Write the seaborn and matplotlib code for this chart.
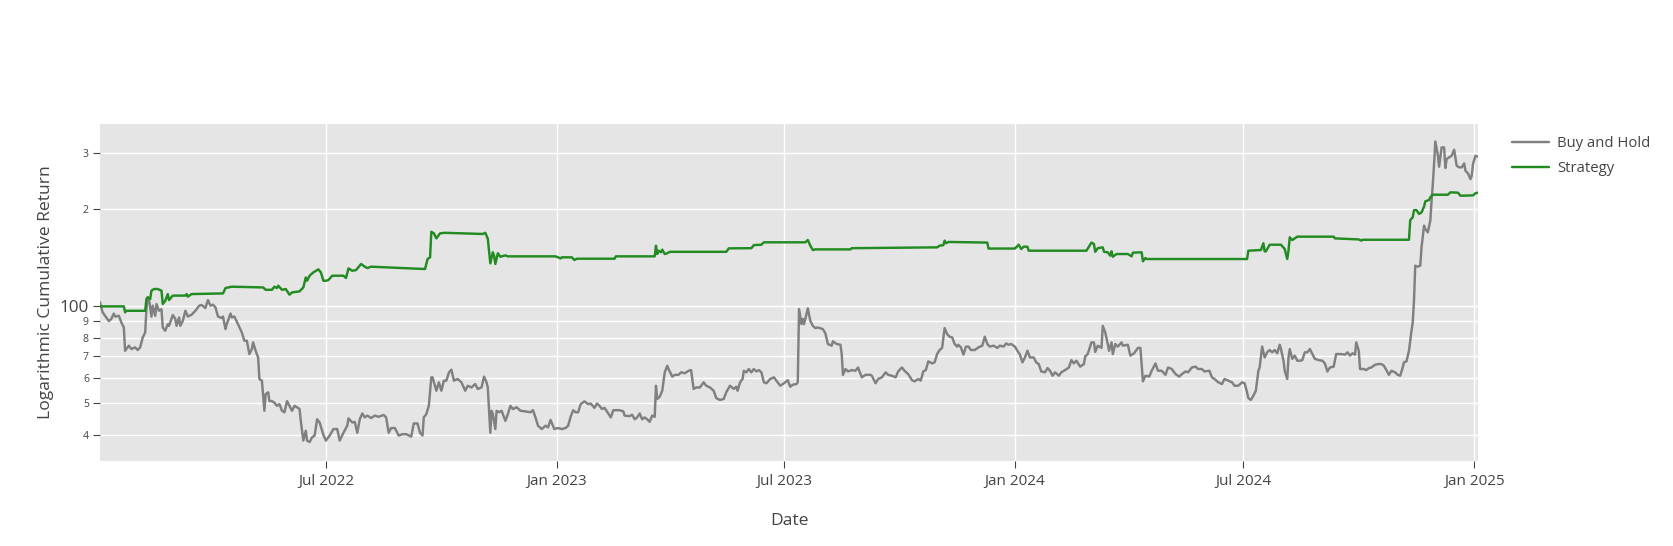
import numpy as np
import pandas as pd
import matplotlib
matplotlib.use("Agg")
import matplotlib.pyplot as plt
import matplotlib.dates as mdates
from matplotlib.ticker import FixedLocator, FixedFormatter, NullLocator
import seaborn as sns

# ---------------- data ----------------
START_DATE = "2022-01-01"          # day 0 of the day offsets below
SERIES_NAMES = ["Buy and Hold", "Strategy"]
SERIES_COLORS = ["#808080", "#228B22"]

BH_DAY = [1, 3, 6, 8, 10, 12, 13, 16, 18, 20, 21, 24, 26, 29, 31, 33, 35, 37, 38, 39, 40, 42, 43, 45, 46, 48, 50, 51, 53, 55,
          56, 59, 61, 62, 64, 65, 67, 69, 71, 74, 77, 80, 82, 85, 87, 89, 91, 93, 95, 98, 99, 101, 102, 105, 106, 108, 111, 114,
          116, 118, 120, 122, 123, 125, 127, 128, 130, 132, 133, 135, 136, 138, 140, 142, 144, 146, 148, 150, 152, 154, 156, 158,
          160, 161, 163, 165, 166, 168, 170, 172, 174, 176, 179, 181,
          184, 187, 190, 192, 195, 198, 199, 202, 204, 206, 208, 210, 212, 214, 217, 220, 223, 227, 229, 231, 233, 236, 239, 242,
          245, 249, 251, 254, 256, 258, 259, 261, 263, 265, 266, 269, 271, 273, 275, 277, 279, 281, 283, 286, 289, 292, 294, 297,
          300, 302, 305, 307, 309, 310, 312, 313, 314, 316, 317, 319, 321, 324, 326, 328, 330, 333, 336, 340, 344, 346, 348, 350,
          353, 356, 358, 360, 363,
          366, 369, 372, 374, 376, 378, 380, 382, 384, 387, 390, 392, 395, 397, 399, 401, 403, 406, 408, 410, 413, 415, 418, 419,
          423, 425, 427, 429, 431, 433, 435, 437, 439, 441, 443, 444, 445, 447, 449, 451, 453, 454, 457, 459, 462, 464, 467, 470,
          472, 474, 476, 479, 482, 484, 487, 490, 492, 495, 498, 500, 503, 506, 508, 509, 511, 513, 514, 516, 518, 520, 522, 524,
          526, 528, 530, 532, 535, 538, 540, 543, 546,
          549, 551, 553, 556, 557, 558, 560, 561, 562, 565, 567, 569, 571, 573, 577, 579, 581, 584, 585, 588, 591, 592, 593, 595,
          597, 600, 603, 605, 608, 611, 615, 616, 619, 621, 624, 627, 629, 632, 635, 637, 640, 642, 645, 648, 650, 653, 655, 657,
          659, 661, 664, 666, 668, 670, 672, 674, 676, 678, 680, 682, 684, 685, 687, 689, 691, 693, 695, 698, 701, 704, 706, 708,
          710, 713, 716, 718, 721, 723, 725, 727, 730,
          732, 734, 736, 738, 740, 742, 745, 747, 749, 751, 754, 756, 758, 760, 762, 765, 767, 770, 773, 775, 777, 779, 782, 785,
          786, 788, 791, 793, 794, 796, 799, 800, 802, 804, 805, 807, 808, 810, 812, 815, 816, 820, 822, 825, 828, 830, 832, 834,
          837, 839, 842, 844, 847, 850, 852, 855, 858, 861, 863, 866, 868, 871, 874, 876, 879, 881, 885, 887, 889, 892, 895, 897,
          900, 903, 905, 908, 911, 913,
          915, 916, 918, 920, 922, 924, 925, 927, 929, 931, 933, 935, 937, 939, 941, 942, 944, 945, 947, 948, 949, 951, 953, 955,
          957, 959, 961, 963, 965, 967, 969, 972, 975, 977, 979, 981, 984, 986, 988, 990, 993, 995, 997, 999, 1001, 1002, 1004,
          1005, 1008, 1010, 1012, 1014, 1017, 1020, 1022, 1024, 1026, 1028, 1030, 1033, 1035, 1037, 1039, 1040, 1042, 1044, 1046,
          1047, 1048, 1049, 1051, 1053, 1054, 1056, 1057, 1059, 1061, 1062, 1063, 1064, 1065, 1067, 1068, 1070, 1072, 1073, 1074,
          1076, 1078, 1080, 1082, 1084, 1086, 1088, 1089, 1091, 1093, 1094, 1095, 1097, 1099]
BH_VAL = [103, 96, 92.4, 90, 91.4, 95, 93, 93.5, 89.2, 86, 72.8, 75.5, 73.7, 74.6, 73.2, 74.6, 80, 83, 98.1, 106.7, 105.4,
          92.9, 100.5, 93.5, 101.7, 96.9, 98, 86, 84, 88, 87, 94, 91.4, 87, 92.4, 87, 90.2, 96.9, 93, 94.2, 96.9, 100.5, 101,
          98.8, 104.6, 100.5, 101.2, 99.3, 93, 92, 93, 85, 88, 95, 92.4, 93, 88, 83, 78.2, 78.2, 71.1, 73.7, 77.3, 72.8, 69.4,
          59.5, 58.8, 47.4, 53.4, 54.1, 50.8, 50.8, 50.2, 49.1, 49.7, 47.4, 46.9, 50.8, 49.1, 47.4, 49.1, 48.6, 48, 44.1, 38.3,
          41.1, 38.3, 37.9, 39.2, 39.7, 44.6, 43.6, 39.9, 38.3,
          39.7, 41.6, 41.6, 38.3, 40.5, 42.6, 44.9, 43.6, 43.8, 40.5, 44.6, 46.5, 45.2, 45.8, 45, 45.8, 45.4, 46, 45.2, 40.5,
          41.9, 41.9, 39.7, 40.1, 40.1, 39.4, 43.3, 43.3, 40.5, 39.7, 45.2, 46.3, 49.1, 60.2, 60.2, 54.7, 58.1, 54.7, 58.8, 58.8,
          62.3, 63.6, 58.8, 59.5, 58.1, 54.7, 56.7, 56, 57.4, 55.4, 56, 60.5, 58.1, 56, 40.5, 47.4, 46.3, 41.6, 47.4, 46.9, 47.4,
          44.1, 46.3, 49.1, 48, 48.6, 47.4, 47.2, 46.9, 47.6, 45.2, 42.6, 41.6, 42.6, 42.1, 44.4, 41.6,
          41.9, 41.6, 41.9, 42.6, 45.4, 47.6, 46.9, 46.9, 49.7, 50.7, 49.7, 49.9, 48.4, 49.9, 49.1, 48, 48.4, 46.5, 45.2, 47.6,
          47.6, 47.6, 47.2, 45.8, 45.6, 46.1, 44.6, 45.2, 46.5, 44.6, 45.2, 44.6, 43.8, 45.8, 45.4, 56.7, 51.6, 52.4, 54.7, 62.4,
          65.4, 63.9, 60.5, 61.3, 61.3, 62.4, 62, 63.1, 63.4, 55.4, 56, 56, 58.1, 56.7, 56, 54.7, 51.9, 51.2, 51.6, 54.1, 56.7,
          55.4, 56.3, 54.7, 58.1, 59.5, 63.1, 62.4, 63.9, 62.4, 63.9, 62.8, 63.4, 62.4, 58.1, 57.7, 59.5, 60.2, 58.8, 56.7, 57.7,
          59, 56.3, 57.1, 57.4, 58.1, 98.1, 88.1, 91.4, 88.1, 98.6, 90.2, 87, 85.6, 86, 85, 82.4, 76.4, 75.5, 77.9, 76.4, 76,
          71.1, 61.3, 63.9, 62.8, 63.4, 63.1, 64.6, 60.2, 61.3, 61.3, 60.9, 57.7, 59.5, 60.2, 62.4, 61.3, 60.9, 60.2, 62.8, 64.6,
          63.1, 61.6, 59, 58.5, 59.5, 58.8, 62.8, 63.4, 67.5, 66.5, 67, 71.1, 73.2, 74.3, 85.6, 82, 80.5, 80.1, 76.4, 75, 76,
          74.6, 70.8, 75, 75, 73.2, 73.2, 74.6, 75.5, 80.5, 76.4, 75, 75.5, 74.3, 75.5, 75, 76.7, 76, 76.4, 75,
          72.8, 70.8, 67, 69.4, 72.8, 69.4, 69.4, 67, 66.2, 62.8, 62.4, 64.3, 63.1, 60.9, 62.4, 60.9, 62.4, 63.4, 64.6, 68.1,
          66.5, 67.8, 65, 66.2, 69.9, 71.1, 77.3, 77.3, 72.2, 75.5, 74.3, 87, 83, 76.4, 72.8, 77.3, 71.1, 76.4, 75, 77.3, 75.5,
          76, 70.3, 71.5, 74.3, 74.3, 58.5, 60.9, 60.5, 63.1, 66.5, 63.1, 63.1, 61.3, 64.6, 63.9, 61.6, 60.5, 61.6, 62.8, 62.4,
          64.6, 65, 63.9, 63.9, 62.8, 63.1, 60.2, 59.5, 58.1, 57.4, 59.5, 58.8, 58.1, 56.7, 56.7, 58.1, 57.7,
          54.1, 51.9, 51.2, 52.8, 54.7, 63.1, 64.6, 75, 69.4, 72, 73.2, 72, 73.2, 71.5, 76, 73.7, 67.8, 63.1, 59.5, 69.4, 73.7,
          68.7, 70.3, 67.8, 67.8, 68.1, 72, 72, 73.7, 71.1, 68.7, 68.1, 67.8, 66.5, 62.8, 64.6, 65, 71.1, 71.1, 71.1, 70.8, 72,
          70.3, 71.5, 70.8, 77.3, 72.8, 63.9, 63.9, 63.4, 64.3, 64.6, 65.9, 66.2, 66.2, 65.4, 63.4, 61.3, 63.1, 62.4, 61.3, 60.9,
          64.6, 67, 67.5, 72.8, 84, 89.2, 104.1, 133.8, 132.8, 133.8, 152.5, 178.1, 173.9, 169.8, 184.5, 212.9, 239.8, 276.7,
          325.2, 295, 271.4, 311.7, 311.7, 268.9, 286.8, 290.2, 293.6, 306.5, 273.3, 270.2, 270.2, 278, 263.8, 258.8, 248.5,
          254.6, 276.7, 293.6, 291.5]

ST_DAY = [1, 20, 21, 22, 37, 38, 39, 41, 42, 44,
          47, 50, 51, 53, 55, 56, 59, 69, 70, 71,
          74, 99, 101, 106, 131, 133, 138, 140, 142, 143,
          146, 149, 152, 154, 160, 163, 165, 166, 168, 171,
          175, 177, 179, 181, 183, 186, 195, 197, 199, 202,
          205, 209, 212, 214, 217, 260, 262, 264, 265, 267,
          269, 272, 276, 306, 308, 310, 312, 314, 315, 316,
          318, 320, 324, 326, 364, 368, 369, 377, 379, 381,
          411, 412, 443, 444, 445, 446, 448, 449, 451, 453,
          455, 500, 502, 520, 522, 528, 530, 563, 565, 567,
          569, 571, 599, 600, 668, 670, 673, 674, 675, 677,
          708, 709, 730, 733, 735, 737, 740, 741, 787, 791,
          793, 794, 796, 800, 801, 804, 806, 807, 808, 811,
          820, 823, 824, 831, 832, 834, 835, 915, 916, 926,
          928, 929, 930, 933, 942, 945, 947, 948, 949, 951,
          955, 984, 985, 1004, 1006, 1007, 1044, 1045, 1047, 1048,
          1050, 1052, 1054, 1056, 1057, 1060, 1061, 1063, 1075, 1077,
          1083, 1085, 1095, 1097, 1099]
ST_VAL = [100, 100, 95.8, 96.9, 96.9, 105.4, 106.7, 105.4, 111.9, 113.2,
          113.2, 111.9, 101.7, 104.1, 109.2, 104.6, 108, 108, 109.2, 107.2,
          109.2, 109.7, 114, 115.1, 114.5, 112.6, 112.6, 115.1, 114, 115.9,
          112.6, 113.2, 108.7, 110.5, 111.3, 114.5, 123, 120.1, 124.5, 127.5,
          130.3, 127.5, 120.1, 120.1, 120.7, 124.5, 124.5, 122.5, 131.2, 129,
          129.6, 135.4, 132.8, 131.5, 132.8, 130.6, 140.3, 142, 170.5, 168.6,
          162.6, 168.6, 169.2, 167.8, 169.2, 162.3, 136, 147.2, 143.7, 135.4,
          146.2, 142.6, 144, 143, 143, 140.9, 142, 142, 139.3, 140.6,
          140.6, 143, 143, 154.3, 145.4, 148.9, 147.2, 150, 145.4, 146.2,
          147.7, 147.7, 151.4, 151.6, 155, 155.4, 158.1, 158.1, 160.7, 154.3,
          149.6, 150.3, 150.3, 151.6, 152.5, 154.3, 155, 160, 157, 158.5,
          157.8, 151.2, 151.2, 155.4, 150.7, 153.2, 153.2, 148.9, 148.9, 157.8,
          156.2, 147.7, 151.6, 152.5, 147.7, 147.2, 143.7, 148.2, 142.6, 145.4,
          145.4, 143, 146.8, 147.2, 138, 141.3, 140.3, 140.3, 148.9, 149.6,
          157, 148.2, 148.2, 155.4, 155.4, 150.7, 140.3, 148.9, 163.8, 160.7,
          164.6, 164.6, 162.6, 161.4, 160, 161, 161, 185.4, 189, 199,
          199, 193.6, 195.8, 203.9, 211.9, 213.9, 218, 222.2, 222.2, 226,
          225.5, 220.6, 221.1, 224.5, 225.5]

Y_TICKS = [40, 50, 60, 70, 80, 90, 100, 200, 300]
Y_TICK_LABELS = ["4", "5", "6", "7", "8", "9", "100", "2", "3"]
X_TICKS = ["2022-07-01", "2023-01-01", "2023-07-01", "2024-01-01", "2024-07-01", "2025-01-01"]
X_TITLE = "Date"
Y_TITLE = "Logarithmic Cumulative Return"

# ---------------- frame ----------------
start = pd.Timestamp(START_DATE)
df = pd.concat([
    pd.DataFrame({"Date": start + pd.to_timedelta(BH_DAY, unit="D"), "Value": BH_VAL, "Series": SERIES_NAMES[0]}),
    pd.DataFrame({"Date": start + pd.to_timedelta(ST_DAY, unit="D"), "Value": ST_VAL, "Series": SERIES_NAMES[1]}),
], ignore_index=True)

# ---------------- style ----------------
TEXT = "#444444"
sns.set_theme(style="darkgrid", rc={
    "axes.facecolor": "#E5E5E5",
    "grid.color": "white",
    "grid.linewidth": 1.0,
    "axes.edgecolor": "none",
    "text.color": TEXT,
    "axes.labelcolor": TEXT,
    "xtick.color": TEXT,
    "ytick.color": TEXT,
})
plt.rcParams["font.family"] = ["Open Sans", "DejaVu Sans"]

W, H = 1673, 546
fig = plt.figure(figsize=(W / 100, H / 100), dpi=100)
fig.patch.set_facecolor("white")
L, R, T, B = 100, 1478, 124, 461
ax = fig.add_axes([L / W, 1 - B / H, (R - L) / W, (B - T) / H])

sns.lineplot(data=df, x="Date", y="Value", hue="Series", hue_order=SERIES_NAMES,
             palette=SERIES_COLORS, estimator=None, sort=False, linewidth=1.75, ax=ax)

ax.set_yscale("log")
ax.set_ylim(33.1, 368.4)
ax.set_xlim(df["Date"].min(), df["Date"].max())

ax.yaxis.set_major_locator(FixedLocator(Y_TICKS))
ax.yaxis.set_major_formatter(FixedFormatter(Y_TICK_LABELS))
ax.yaxis.set_minor_locator(NullLocator())
ax.xaxis.set_major_locator(FixedLocator(mdates.date2num(pd.to_datetime(X_TICKS))))
ax.xaxis.set_major_formatter(mdates.DateFormatter("%b %Y"))
ax.xaxis.set_minor_locator(NullLocator())

ax.grid(True, color="white", linewidth=1.0)
for s in ax.spines.values():
    s.set_visible(False)

ax.tick_params(axis="y", which="major", direction="out", length=5, width=0.8,
               color=TEXT, pad=3, left=True)
ax.tick_params(axis="x", which="major", direction="out", length=5, width=0.8,
               color=TEXT, pad=4, bottom=True, labelsize=11.0)
for lab in ax.get_yticklabels():
    lab.set_fontsize(12.3 if lab.get_text() == "100" else 7.6)

ax.set_xlabel(X_TITLE, fontsize=12.6)
ax.set_ylabel(Y_TITLE, fontsize=12.6)
ax.xaxis.label.set_va("center")
ax.yaxis.label.set_va("center")
ax.xaxis.set_label_coords((790 - L) / (R - L), (B - 521) / (B - T))
ax.yaxis.set_label_coords((46 - L) / (R - L), 0.5)

handles, labels = ax.get_legend_handles_labels()
ax.legend(handles, labels, loc="upper left", bbox_to_anchor=((1512 - L) / (R - L), (B - 136) / (B - T)),
          frameon=False, fontsize=10.7, handlelength=2.5, handletextpad=0.55, labelspacing=0.66,
          borderpad=0, borderaxespad=0)

fig.savefig("out.png", dpi=100, facecolor="white")
